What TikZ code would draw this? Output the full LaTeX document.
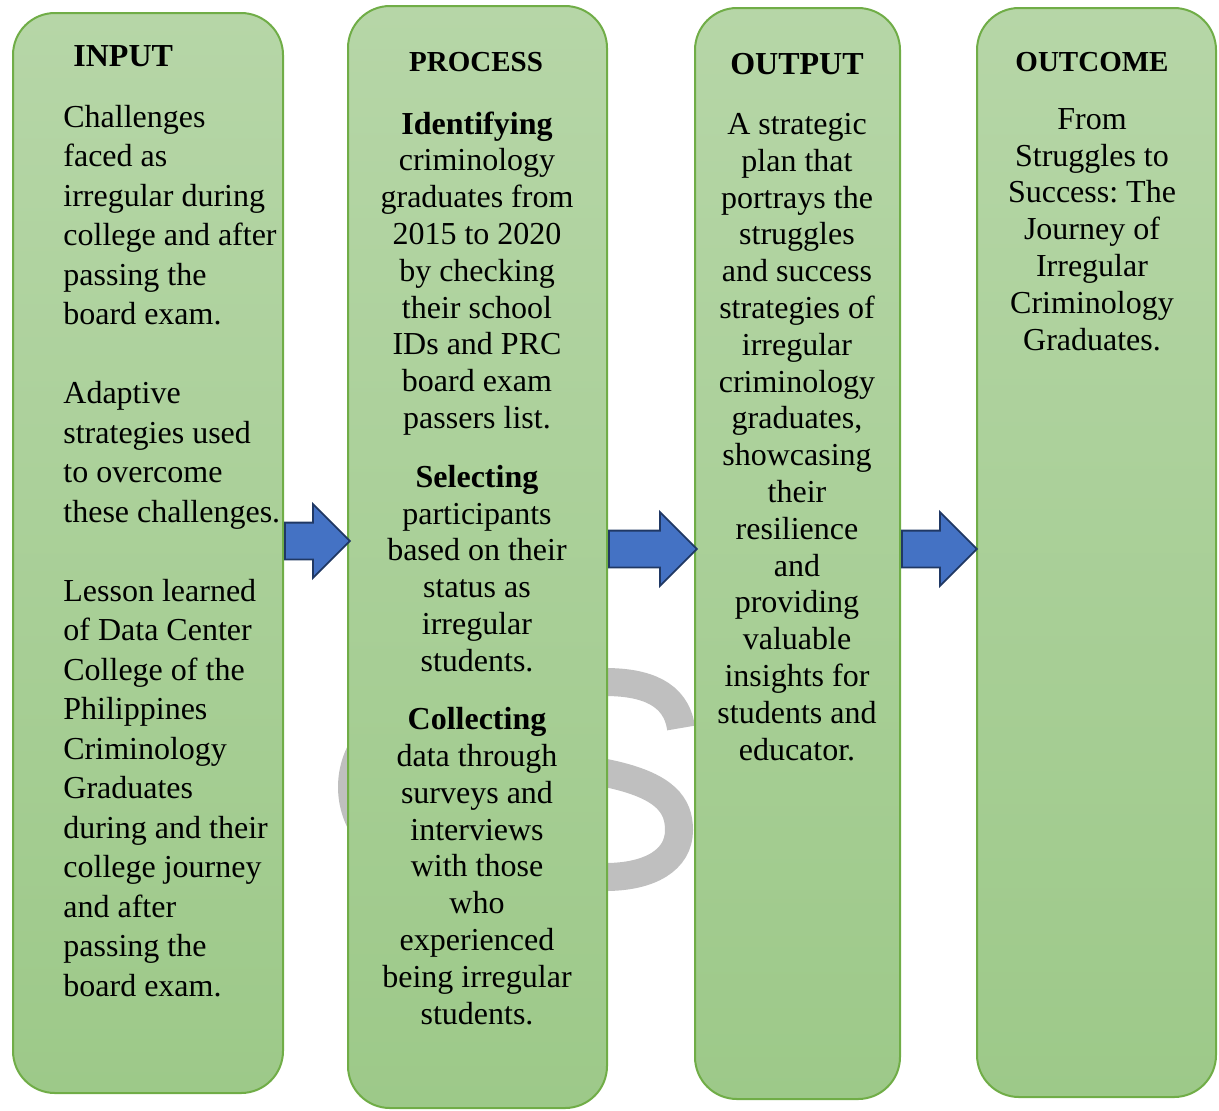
\documentclass[tikz,border=0pt]{standalone}
\usepackage{fontspec}
\setmainfont{Liberation Serif}
\usetikzlibrary{shapes,arrows,positioning}
\usepackage{xcolor}
\definecolor{boxtop}{RGB}{182,214,167}
\definecolor{boxbot}{RGB}{157,201,137}
\definecolor{boxline}{RGB}{112,173,71}
\definecolor{arrowblue}{RGB}{68,114,196}
\definecolor{arrowline}{RGB}{32,56,100}
\definecolor{markgray}{RGB}{191,191,191}

\begin{document}
\begin{tikzpicture}[x=0.5pt, y=-0.5pt,
    stage/.style={rectangle, draw=boxline, line width=1pt, rounded corners=21pt, top color=boxtop, bottom color=boxbot, inner sep=0pt},
    blockarrow/.style={single arrow, draw=arrowline, fill=arrowblue, line width=0.9pt, single arrow head extend=9.25pt, single arrow tip angle=90, inner xsep=0pt, inner ysep=8.75pt, anchor=tail},
    bodytext/.style={inner sep=0pt, font=\fontsize{16}{18.4}\selectfont},
    heading/.style={inner sep=0pt, anchor=base, font=\bfseries\fontsize{16}{18.4}\selectfont},
    smallheading/.style={heading, font=\bfseries\fontsize{14.5}{17}\selectfont}]
    \useasboundingbox (0,0) rectangle (1219,1110);

    % Watermark
    \draw[markgray, line width=14pt] (430,787) ++(140:78) arc[start angle=140, end angle=220, radius=78];
    \draw[markgray, line width=14pt] (681,728) .. controls (676,693) and (645,682) .. (605,682)
        .. controls (560,682) and (535,700) .. (535,730) .. controls (535,760) and (570,765) .. (615,775)
        .. controls (665,787) and (679,805) .. (679,830) .. controls (679,860) and (650,877) .. (605,877)
        .. controls (560,877) and (530,860) .. (525,830);

    % Stages
    \node[stage, minimum width=135pt, minimum height=540pt] (input) at (148,553) {};
    \node[stage, minimum width=129.5pt, minimum height=551pt] (process) at (477.5,557) {};
    \node[stage, minimum width=102.5pt, minimum height=545.5pt] (output) at (797.5,553.5) {};
    \node[stage, minimum width=119.5pt, minimum height=544.5pt] (outcome) at (1096.5,552.5) {};

    % Headings
    \node[heading, anchor=base west] (inhead) at (73,66) {INPUT};
    \node[smallheading] (prochead) at (476,71) {PROCESS};
    \node[heading] (outhead) at (797,74) {OUTPUT};
    \node[smallheading] (finhead) at (1092,71) {OUTCOME};

    % Texts (anchored on the last baseline)
    \node[bodytext, anchor=base west, align=left, font=\fontsize{16}{19.75}\selectfont] (intext) at (63,996)
        {Challenges\\faced as\\irregular during\\college and after\\passing the\\board exam.\\[19.75pt]
         Adaptive\\strategies used\\to overcome\\these challenges.\\[19.75pt]
         Lesson learned\\of Data Center\\College of the\\Philippines\\Criminology\\Graduates\\during and their\\college journey\\and after\\passing the\\board exam.};
    \node[bodytext, anchor=base, align=center] (proctext) at (477,1024)
        {\textbf{Identifying}\\criminology\\graduates from\\2015 to 2020\\by checking\\their school\\IDs and PRC\\board exam\\passers list.\\[11pt]
         \textbf{Selecting}\\participants\\based on their\\status as\\irregular\\students.\\[10.8pt]
         \textbf{Collecting}\\data through\\surveys and\\interviews\\with those\\who\\experienced\\being irregular\\students.};
    \node[bodytext, anchor=base, align=center] (outtext) at (797,760)
        {A strategic\\plan that\\portrays the\\struggles\\and success\\strategies of\\irregular\\criminology\\graduates,\\showcasing\\their\\resilience\\and\\providing\\valuable\\insights for\\students and\\educator.};
    \node[bodytext, anchor=base, align=center] (fintext) at (1092,350)
        {From\\Struggles to\\Success:\ The\\Journey of\\Irregular\\Criminology\\Graduates.};

    % Arrows
    \node[blockarrow, minimum height=32.5pt] (arrA) at (input.east |- 0,541) {};
    \node[blockarrow, minimum height=44pt] (arrB) at (process.east |- 0,549) {};
    \node[blockarrow, minimum height=37.5pt] (arrC) at (output.east |- 0,549) {};
\end{tikzpicture}
\end{document}
